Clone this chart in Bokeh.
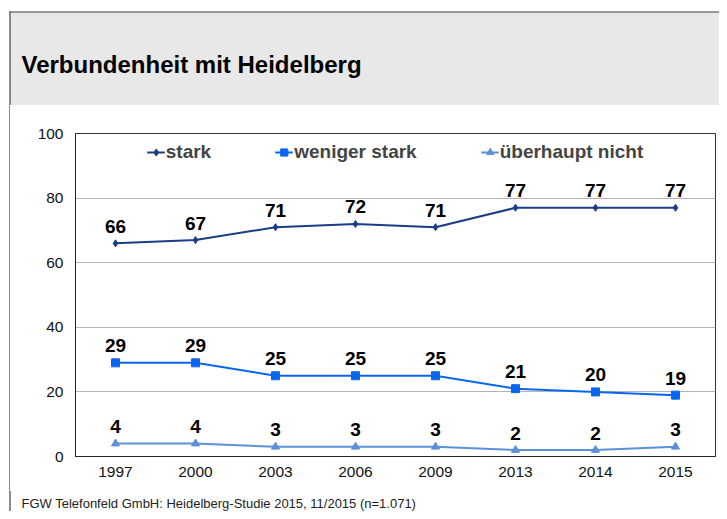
from bokeh.plotting import figure
from bokeh.models import ColumnDataSource, FactorRange, Range1d, FixedTicker
from bokeh.layouts import column, row
from bokeh.core.properties import value
from bokeh.embed import file_html
from bokeh.resources import INLINE

# ---- data ----
years = ["1997", "2000", "2003", "2006", "2009", "2013", "2014", "2015"]
stark = [66, 67, 71, 72, 71, 77, 77, 77]
weniger_stark = [29, 29, 25, 25, 25, 21, 20, 19]
ueberhaupt_nicht = [4, 4, 3, 3, 3, 2, 2, 3]
series_names = ["stark", "weniger stark", "überhaupt nicht"]
y_ticks = [0, 20, 40, 60, 80, 100]
title_text = "Verbundenheit mit Heidelberg"
footnote_text = "FGW Telefonfeld GmbH: Heidelberg-Studie 2015, 11/2015 (n=1.071)"

FONT = "Liberation Sans"
W = 719
BORDER = "#404040"


def blank(width, height):
    """A figure whose frame covers its whole canvas, in pixel-like units (y downward)."""
    f = figure(width=width, height=height, x_range=Range1d(0, width), y_range=Range1d(height, 0),
               x_axis_location=None, y_axis_location=None, toolbar_location=None,
               output_backend="svg", min_border=0, outline_line_color=None,
               background_fill_color="white", border_fill_color="white", frame_align=False)
    f.grid.visible = False
    return f


# ---- header ----
HH = 105
h = blank(W, HH)
h.quad(left=[9.5], right=[W], top=[11.5], bottom=[HH], fill_color="#E8E8E8", line_color=None)
h.segment(x0=[9], y0=[11.5], x1=[W], y1=[11.5], line_color=BORDER, line_width=1.2)
h.segment(x0=[9.5], y0=[11], x1=[9.5], y1=[HH], line_color=BORDER, line_width=1.2)
h.text(x=[21], y=[63.5], text=[title_text], text_font=value(FONT), text_font_style="bold",
       text_font_size="24px", text_color="black", text_baseline="middle", text_align="left")

# ---- left border strip next to the chart ----
MH = 385
SW = 10
s = blank(SW, MH)
s.segment(x0=[9.5], y0=[0], x1=[9.5], y1=[MH], line_color=BORDER, line_width=1.2)

# ---- main chart ----
p = figure(width=W - SW, height=MH, x_range=FactorRange(*years), y_range=Range1d(0, 100),
           toolbar_location=None, output_backend="svg", frame_align=False,
           min_border_left=65, min_border_right=4, min_border_top=28, min_border_bottom=34,
           background_fill_color="white", border_fill_color="white",
           outline_line_color="#333333", outline_line_width=1)
p.x_range.range_padding = 0

p.xgrid.visible = False
p.ygrid.grid_line_color = "#B4B4B4"
p.ygrid.grid_line_width = 1
p.yaxis.ticker = FixedTicker(ticks=y_ticks)

for ax in (p.xaxis[0], p.yaxis[0]):
    ax.axis_line_color = "#222222"
    ax.axis_line_width = 1
    ax.major_tick_line_color = None
    ax.minor_tick_line_color = None
    ax.major_tick_out = 0
    ax.major_tick_in = 0
    ax.major_label_text_font = FONT
    ax.major_label_text_font_size = "15.5px"
    ax.major_label_text_color = "#111111"
p.xaxis.major_label_standoff = 10
p.yaxis.major_label_standoff = 12

colors = ["#1B3C86", "#0A66F2", "#5C90D8"]
markers = ["diamond", "square", "triangle"]
sizes = [7, 8, 8]
all_vals = [stark, weniger_stark, ueberhaupt_nicht]

for name, vals, col, mk, sz in zip(series_names, all_vals, colors, markers, sizes):
    src = ColumnDataSource(dict(x=years, y=vals, t=[str(v) for v in vals]))
    p.line("x", "y", source=src, line_color=col, line_width=2, legend_label=name)
    p.scatter("x", "y", source=src, marker=mk, size=sz, fill_color=col, line_color=col,
              legend_label=name)
    p.text("x", "y", text="t", source=src, y_offset=-17, text_align="center",
           text_baseline="middle", text_font=value(FONT), text_font_style="bold",
           text_font_size="19px", text_color="black")

lg = p.legend[0]
lg.location = "top_center"
lg.orientation = "horizontal"
lg.border_line_color = None
lg.background_fill_alpha = 0
lg.label_text_font = FONT
lg.label_text_font_style = "bold"
lg.label_text_font_size = "19px"
lg.label_standoff = 1
lg.glyph_width = 18
lg.glyph_height = 20
lg.spacing = 64
lg.padding = 8
lg.margin = 8

# ---- footnote ----
FH = 21
f = blank(W, FH)
f.segment(x0=[9.5], y0=[0], x1=[9.5], y1=[FH], line_color=BORDER, line_width=1.2)
f.text(x=[21], y=[13], text=[footnote_text], text_font=value(FONT), text_font_size="13px",
       text_color="#222222", text_baseline="middle", text_align="left")

layout = column(h, row(s, p, spacing=0), f, spacing=0)

open("out.html", "w").write(file_html(layout, INLINE))
